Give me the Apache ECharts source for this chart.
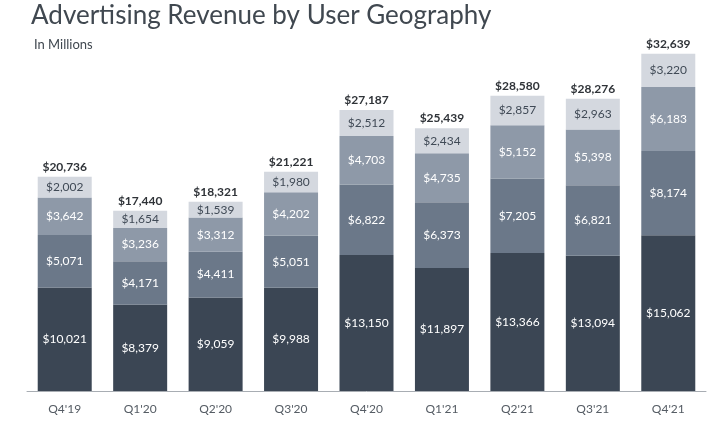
<!DOCTYPE html>
<html>
<head>
<meta charset="utf-8">
<script src="https://cdn.jsdelivr.net/npm/echarts@6/dist/echarts.min.js"></script>
<style>html,body{margin:0;padding:0;background:#fff;}#c{width:720px;height:425px;}</style>
</head>
<body>
<div id="c"></div>
<script>
const categories = ["Q4'19","Q1'20","Q2'20","Q3'20","Q4'20","Q1'21","Q2'21","Q3'21","Q4'21"];
const usCanada = [10021, 8379, 9059, 9988, 13150, 11897, 13366, 13094, 15062];
const europe = [5071, 4171, 4411, 5051, 6822, 6373, 7205, 6821, 8174];
const asiaPacific = [3642, 3236, 3312, 4202, 4703, 4735, 5152, 5398, 6183];
const restOfWorld = [2002, 1654, 1539, 1980, 2512, 2434, 2857, 2963, 3220];
const totals = [20736, 17440, 18321, 21221, 27187, 25439, 28580, 28276, 32639];

const fmt = v => '$' + v.toLocaleString('en-US');
const FONT = 'Lato';
function seg(name, data, color, textColor) {
  return {
    name, type: 'bar', stack: 'a', data, barWidth: 54,
    itemStyle: { color },
    label: { show: true, position: 'inside', color: textColor, fontFamily: FONT, fontSize: 12,
      formatter: p => fmt(p.value) }
  };
}
const chart = echarts.init(document.getElementById('c'));
chart.setOption({
  animation: false,
  title: [
    { text: 'Advertising Revenue by User Geography', left: 26, top: -2,
      textStyle: { fontFamily: FONT, fontSize: 26, fontWeight: 'normal', color: '#404850' } },
    { text: 'In Millions', left: 29, top: 33,
      textStyle: { fontFamily: FONT, fontSize: 13, fontWeight: 'normal', color: '#404850' } }
  ],
  grid: { left: 27, right: 14, top: 19, bottom: 34 },
  xAxis: {
    type: 'category', data: categories,
    axisLine: { lineStyle: { color: '#a8adb3', width: 1 } },
    axisTick: { show: false },
    axisLabel: { color: '#555c64', fontFamily: FONT, fontSize: 12, margin: 12 }
  },
  yAxis: { type: 'value', min: 0, max: 36000, show: false, splitLine: { show: false } },
  series: [
    seg('US & Canada', usCanada, '#3b4654', '#ffffff'),
    seg('Europe', europe, '#6b7889', '#ffffff'),
    seg('Asia-Pacific', asiaPacific, '#8e99a8', '#ffffff'),
    seg('Rest of World', restOfWorld, '#d4d8df', '#404a56'),
    {
      name: 'Total', type: 'bar', stack: 'a', barWidth: 54,
      data: totals.map(() => 0),
      itemStyle: { color: 'transparent' },
      label: { show: true, position: 'top', distance: 4, color: '#2f3338', fontFamily: FONT,
        fontSize: 12, fontWeight: 'bold', formatter: p => fmt(totals[p.dataIndex]) }
    }
  ]
});
</script>
</body>
</html>
